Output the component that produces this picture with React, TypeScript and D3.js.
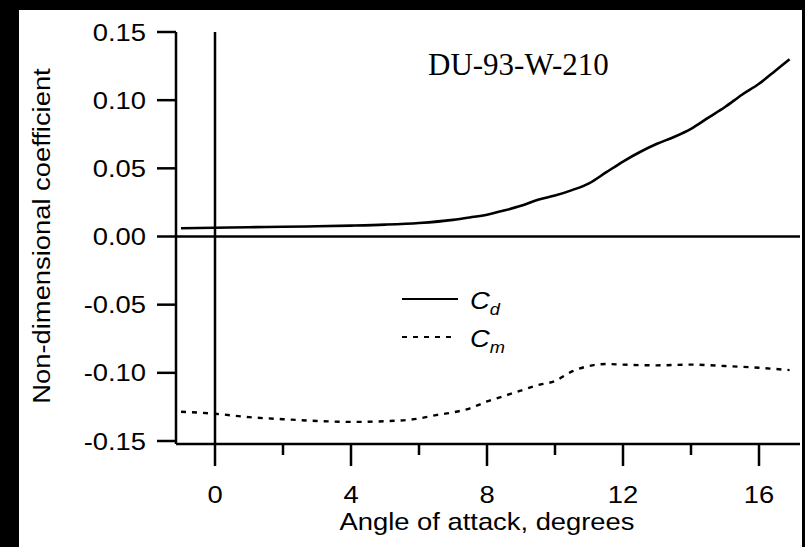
import React from "react";
import * as d3 from "d3";

const alphaCd = [-1, 0, 1, 2, 3, 4, 5, 6, 7, 7.5, 8, 8.5, 9, 9.5, 10, 10.5, 11, 11.5, 12, 12.5, 13, 13.5, 14, 14.5, 15, 15.5, 16, 16.5, 16.9];
const cdValues = [0.006, 0.0064, 0.0068, 0.0071, 0.0075, 0.008, 0.0087, 0.0099, 0.0122, 0.014, 0.016, 0.019, 0.0225, 0.027, 0.030, 0.034, 0.039, 0.047, 0.055, 0.062, 0.068, 0.073, 0.079, 0.087, 0.095, 0.104, 0.112, 0.122, 0.130];

const alphaCm = [-1, 0, 1, 2, 3, 4, 5, 6, 6.5, 7, 7.5, 8, 8.5, 9, 9.5, 10, 10.5, 11, 11.5, 12, 13, 14, 15, 16, 16.9];
const cmValues = [-0.1285, -0.130, -0.1325, -0.134, -0.1353, -0.136, -0.1355, -0.1335, -0.131, -0.129, -0.126, -0.121, -0.117, -0.113, -0.109, -0.106, -0.099, -0.095, -0.0935, -0.094, -0.0945, -0.094, -0.095, -0.0963, -0.098];

const yTicks = [0.15, 0.1, 0.05, 0, -0.05, -0.1, -0.15];
const yTickLabels = ["0.15", "0.10", "0.05", "0.00", "-0.05", "-0.10", "-0.15"];
const xMajorTicks = [0, 4, 8, 12, 16];
const xMinorTicks = [2, 6, 10, 14];

const title = "DU-93-W-210";
const xTitle = "Angle of attack, degrees";
const yTitle = "Non-dimensional coefficient";

export default function App() {
  const x = d3.scaleLinear().domain([0, 16]).range([215, 759]);
  const y = d3.scaleLinear().domain([-0.15, 0.15]).range([441, 32]);
  const xLeft = 176;
  const xRight = 800;
  const xAxisY = 444;

  const line = d3
    .line<[number, number]>()
    .x((d) => x(d[0]))
    .y((d) => y(d[1]))
    .curve(d3.curveMonotoneX);

  const cdPath = line(alphaCd.map((a, i) => [a, cdValues[i]]) as [number, number][]) || "";
  const cmPath = line(alphaCm.map((a, i) => [a, cmValues[i]]) as [number, number][]) || "";

  const sans = "'Liberation Sans', Arial, Helvetica, sans-serif";
  const serif = "'Liberation Serif', 'Times New Roman', serif";
  const sx = 1.14;

  return (
    <svg
      width={805}
      height={547}
      style={{ position: "absolute", left: 0, top: 0, background: "#fff" }}
    >
      {/* black scan border */}
      <rect x={0} y={0} width={805} height={547} fill="#000" />
      <rect x={19} y={10} width={783} height={537} fill="#fff" />

      {/* y axis */}
      <line x1={xLeft} x2={xLeft} y1={y(0.15)} y2={xAxisY} stroke="#000" strokeWidth={2.5} />
      {yTicks.map((t, i) => (
        <g key={"yt" + i}>
          <line x1={157} x2={xLeft} y1={y(t)} y2={y(t)} stroke="#000" strokeWidth={2.5} />
          <g transform={`translate(146,${y(t) + 8.5}) scale(${sx},1)`}>
            <text textAnchor="end" fontFamily={sans} fontSize={24} fill="#000">
              {yTickLabels[i]}
            </text>
          </g>
        </g>
      ))}

      {/* zero line */}
      <line x1={xLeft} x2={xRight} y1={y(0)} y2={y(0)} stroke="#000" strokeWidth={2.5} />

      {/* x axis */}
      <line x1={xLeft} x2={xRight} y1={xAxisY} y2={xAxisY} stroke="#000" strokeWidth={2.5} />
      {xMajorTicks.map((t) => (
        <g key={"xt" + t}>
          <line x1={x(t)} x2={x(t)} y1={xAxisY} y2={466} stroke="#000" strokeWidth={2.5} />
          <g transform={`translate(${x(t)},503) scale(${sx},1)`}>
            <text textAnchor="middle" fontFamily={sans} fontSize={24} fill="#000">
              {t}
            </text>
          </g>
        </g>
      ))}
      {xMinorTicks.map((t) => (
        <line key={"xm" + t} x1={x(t)} x2={x(t)} y1={xAxisY} y2={455} stroke="#000" strokeWidth={2.5} />
      ))}

      {/* vertical line at alpha = 0 */}
      <line x1={x(0)} x2={x(0)} y1={y(0.15)} y2={xAxisY} stroke="#000" strokeWidth={2.5} />

      {/* curves */}
      <path d={cdPath} fill="none" stroke="#000" strokeWidth={2.6} />
      <path d={cmPath} fill="none" stroke="#000" strokeWidth={2.4} strokeDasharray="5,6" />

      {/* title */}
      <text x={428} y={75} fontFamily={serif} fontSize={31} fill="#000">
        {title}
      </text>

      {/* legend */}
      <line x1={402} x2={458} y1={299} y2={299} stroke="#000" strokeWidth={2.2} />
      <g transform={`translate(470,309) scale(${sx},1)`}>
        <text fontFamily={sans} fontSize={24} fontStyle="italic" fill="#000">
          C
          <tspan fontSize={16} dy={6}>d</tspan>
        </text>
      </g>
      <line x1={402} x2={456} y1={337} y2={337} stroke="#000" strokeWidth={2.2} strokeDasharray="5,6" />
      <g transform={`translate(470,347) scale(${sx},1)`}>
        <text fontFamily={sans} fontSize={24} fontStyle="italic" fill="#000">
          C
          <tspan fontSize={16} dy={6}>m</tspan>
        </text>
      </g>

      {/* axis titles */}
      <g transform={`translate(487,530) scale(${sx},1)`}>
        <text textAnchor="middle" fontFamily={sans} fontSize={24} fill="#000">
          {xTitle}
        </text>
      </g>
      <g transform={`translate(50,236) rotate(-90) scale(${sx},1)`}>
        <text textAnchor="middle" fontFamily={sans} fontSize={24} fill="#000">
          {yTitle}
        </text>
      </g>
    </svg>
  );
}
